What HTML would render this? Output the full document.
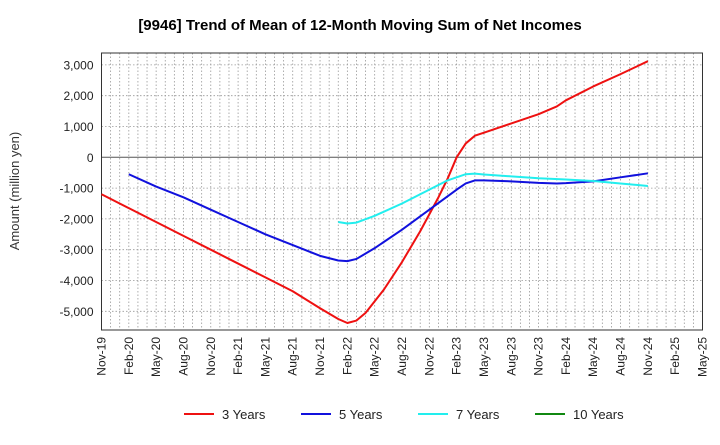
<!DOCTYPE html>
<html><head><meta charset="utf-8"><style>
body{margin:0;background:#fff;font-family:"Liberation Sans",sans-serif}
</style></head><body>
<svg id="c" width="720" height="440" xmlns="http://www.w3.org/2000/svg" font-family="Liberation Sans, sans-serif">
<text x="360" y="30" text-anchor="middle" font-size="15" font-weight="bold">[9946]  Trend of Mean of 12-Month Moving Sum of Net Incomes</text>
<text transform="translate(19,191) rotate(-90)" text-anchor="middle" font-size="13" fill="#333">Amount (million yen)</text>
<g id="grid"></g><g id="axes"></g><g id="series"></g><g id="legend"></g>
</svg>
<script>
const xTickLabels=["Nov-19","Feb-20","May-20","Aug-20","Nov-20","Feb-21","May-21","Aug-21","Nov-21","Feb-22","May-22","Aug-22","Nov-22","Feb-23","May-23","Aug-23","Nov-23","Feb-24","May-24","Aug-24","Nov-24","Feb-25","May-25"];
const yTicks=[3000,2000,1000,0,-1000,-2000,-3000,-4000,-5000];
const seriesNames=["3 Years","5 Years","7 Years","10 Years"];
const seriesColors=["#ee1111","#1111dd","#22eeee","#118811"];
const months3=[0,3,6,9,12,15,18,21,24,26,27,28,29,31,33,35,37,38,39,40,41,42,45,48,50,51,54,57,60];
const vals3=[-1200,-1650,-2100,-2550,-3000,-3450,-3900,-4350,-4900,-5250,-5380,-5300,-5050,-4300,-3400,-2400,-1300,-700,0,450,700,800,1100,1400,1650,1850,2300,2700,3120];
const months5=[3,6,9,12,15,18,21,24,26,27,28,30,33,36,39,40,41,42,45,48,50,51,54,57,60];
const vals5=[-550,-950,-1300,-1700,-2100,-2500,-2850,-3200,-3350,-3370,-3300,-2950,-2350,-1700,-1050,-850,-750,-750,-780,-830,-850,-840,-780,-650,-520];
const months7=[26,27,28,30,33,36,38,40,41,42,45,48,51,54,57,60];
const vals7=[-2100,-2150,-2120,-1900,-1500,-1050,-750,-550,-530,-560,-620,-680,-720,-770,-850,-930];
const months10=[];const vals10=[];
const L=101.5,R=702.5,T=53,B=330,NM=66;
const x=m=>L+(R-L)*m/NM;
const y=v=>157.3-v*0.0308;
const ns="http://www.w3.org/2000/svg";
function mk(t,a,p){const e=document.createElementNS(ns,t);for(const k in a)e.setAttribute(k,a[k]);p.appendChild(e);return e;}
const g=document.getElementById('grid'),ax=document.getElementById('axes'),sg=document.getElementById('series'),lg=document.getElementById('legend');
for(let m=1;m<NM;m++){const l=mk('line',{x1:x(m),x2:x(m),y1:T,y2:B,stroke:'#999','stroke-width':0.8,'stroke-dasharray':'1.5,2'},g);

}
yTicks.forEach(v=>{const l=mk('line',{x1:L,x2:R,y1:y(v),y2:y(v),stroke:v===0?'#555':'#999','stroke-width':v===0?1:0.8,'stroke-dasharray':v===0?'':'1.5,2'},g);


const t=mk('text',{x:L-8,y:y(v)+4.5,'text-anchor':'end','font-size':12,fill:'#222'},ax);t.textContent=v.toLocaleString('en-US');

});
const fr=mk('rect',{x:L,y:T,width:R-L,height:B-T,fill:'none',stroke:'#333','stroke-width':1},ax);


xTickLabels.forEach((s,i)=>{const xx=x(i*3);const t=mk('text',{transform:`translate(${xx+4},${B+7}) rotate(-90)`,'text-anchor':'end','font-size':12,fill:'#222'},ax);t.textContent=s;

});
[[months3,vals3],[months5,vals5],[months7,vals7],[months10,vals10]].forEach((d,i)=>{if(!d[0].length)return;
const p=mk('polyline',{points:d[0].map((m,j)=>x(m)+','+y(d[1][j])).join(' '),fill:'none',stroke:seriesColors[i],'stroke-width':2,'stroke-linejoin':'round'},sg);

});
const lx=[184,301,418,535];
seriesNames.forEach((s,i)=>{const e=mk('g',{},lg);


mk('line',{x1:lx[i],x2:lx[i]+30,y1:414,y2:414,stroke:seriesColors[i],'stroke-width':2},e);
const t=mk('text',{x:lx[i]+38,y:419,'font-size':13,fill:'#222'},e);t.textContent=s;});
</script>
</body></html>
